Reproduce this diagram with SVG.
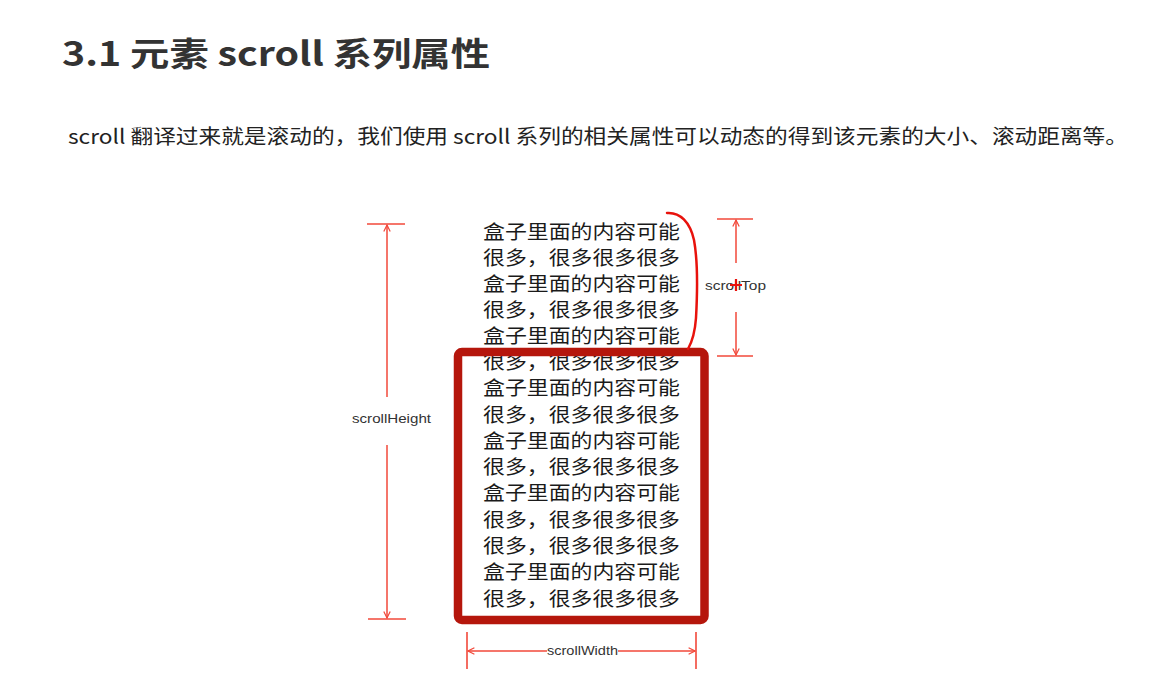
<svg xmlns="http://www.w3.org/2000/svg" width="1156" height="691" viewBox="0 0 1156 691">
  <defs>
    <style>
      .title { font-family: "Noto Sans CJK SC", "Liberation Sans", sans-serif; font-weight: 700; font-size: 33px; fill: #333; }
      .intro { font-family: "Noto Sans CJK SC", "Liberation Sans", sans-serif; font-size: 20px; fill: #222; }
      .content { font-family: "Noto Sans CJK SC", "Liberation Sans", sans-serif; font-size: 19.5px; fill: #1a1a1a; }
      .dimlabel { font-family: "Liberation Sans", Arial, sans-serif; font-size: 13.5px; fill: #333; }
      .dim { stroke: #f2483a; stroke-width: 1.5; fill: none; }
      .tick { stroke: #f2483a; stroke-width: 1.6; fill: none; }
    </style>
    <marker id="vhead" viewBox="0 0 10 10" refX="9" refY="5" markerWidth="8" markerHeight="8" orient="auto-start-reverse" markerUnits="userSpaceOnUse">
      <path d="M1,1 L9,5 L1,9" fill="none" stroke="#f2483a" stroke-width="1.5"/>
    </marker>
  </defs>
  <rect width="1156" height="691" fill="#fff"/>

  <text class="title" x="62" y="66" textLength="428" lengthAdjust="spacingAndGlyphs">3.1 元素 scroll 系列属性</text>
  <text class="intro" x="68" y="144" textLength="1060" lengthAdjust="spacingAndGlyphs">scroll 翻译过来就是滚动的，我们使用 scroll 系列的相关属性可以动态的得到该元素的大小、滚动距离等。</text>

  <!-- overflowing content lines -->
  <g id="content">
    <text class="content" x="483" y="239" textLength="197" lengthAdjust="spacingAndGlyphs">盒子里面的内容可能</text>
    <text class="content" x="483" y="265" textLength="197" lengthAdjust="spacingAndGlyphs">很多，很多很多很多</text>
    <text class="content" x="483" y="291" textLength="197" lengthAdjust="spacingAndGlyphs">盒子里面的内容可能</text>
    <text class="content" x="483" y="317" textLength="197" lengthAdjust="spacingAndGlyphs">很多，很多很多很多</text>
    <text class="content" x="483" y="343" textLength="197" lengthAdjust="spacingAndGlyphs">盒子里面的内容可能</text>
    <text class="content" x="483" y="369" textLength="197" lengthAdjust="spacingAndGlyphs">很多，很多很多很多</text>
    <text class="content" x="483" y="395" textLength="197" lengthAdjust="spacingAndGlyphs">盒子里面的内容可能</text>
    <text class="content" x="483" y="422" textLength="197" lengthAdjust="spacingAndGlyphs">很多，很多很多很多</text>
    <text class="content" x="483" y="448" textLength="197" lengthAdjust="spacingAndGlyphs">盒子里面的内容可能</text>
    <text class="content" x="483" y="474" textLength="197" lengthAdjust="spacingAndGlyphs">很多，很多很多很多</text>
    <text class="content" x="483" y="500" textLength="197" lengthAdjust="spacingAndGlyphs">盒子里面的内容可能</text>
    <text class="content" x="483" y="527" textLength="197" lengthAdjust="spacingAndGlyphs">很多，很多很多很多</text>
    <text class="content" x="483" y="553" textLength="197" lengthAdjust="spacingAndGlyphs">很多，很多很多很多</text>
    <text class="content" x="483" y="579" textLength="197" lengthAdjust="spacingAndGlyphs">盒子里面的内容可能</text>
    <text class="content" x="483" y="606" textLength="197" lengthAdjust="spacingAndGlyphs">很多，很多很多很多</text>
  </g>

  <!-- visible box -->
  <g id="box">
    <rect x="458" y="352" width="246.5" height="268" rx="4" fill="none" stroke="#b5160c" stroke-width="8.5"/>
  </g>

  <!-- scrolled-off part bracket -->
  <g id="brace">
    <path d="M667,213 C680,212 690,222 694,240 C698,262 697,300 696,318 C695,332 692,342 688,349" fill="none" stroke="#e8120c" stroke-width="2.5" stroke-linecap="round"/>
  </g>

  <g id="connectors">
    <!-- scrollHeight -->
    <line class="tick" x1="367" y1="224" x2="405" y2="224"/>
    <line class="tick" x1="368" y1="619" x2="406" y2="619"/>
    <line class="dim" x1="387" y1="397" x2="387" y2="225" marker-end="url(#vhead)"/>
    <line class="dim" x1="387" y1="445" x2="387" y2="618" marker-end="url(#vhead)"/>
    <!-- scrollTop -->
    <line class="tick" x1="717" y1="219" x2="753" y2="219"/>
    <line class="tick" x1="717" y1="356" x2="753" y2="356"/>
    <line class="dim" x1="736" y1="263" x2="736" y2="220" marker-end="url(#vhead)"/>
    <line class="dim" x1="736" y1="312" x2="736" y2="355" marker-end="url(#vhead)"/>
    <!-- scrollWidth -->
    <line class="tick" x1="467" y1="632" x2="467" y2="669"/>
    <line class="tick" x1="696" y1="632" x2="696" y2="669"/>
    <line class="dim" x1="547" y1="651" x2="468" y2="651" marker-end="url(#vhead)"/>
    <line class="dim" x1="618" y1="651" x2="695" y2="651" marker-end="url(#vhead)"/>
  </g>

  <g id="labels">
    <text class="dimlabel" x="352" y="423" textLength="79" lengthAdjust="spacingAndGlyphs">scrollHeight</text>
    <text class="dimlabel" x="705" y="290" textLength="61" lengthAdjust="spacingAndGlyphs">scrollTop</text>
    <text class="dimlabel" x="547" y="655" textLength="71" lengthAdjust="spacingAndGlyphs">scrollWidth</text>
    <path d="M730,285 L742,285 M736,279 L736,291" stroke="#e8120c" stroke-width="2.2"/>
  </g>
</svg>
